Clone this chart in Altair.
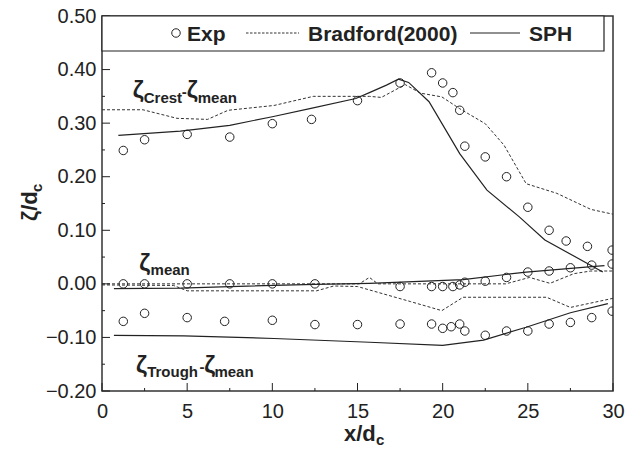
import altair as alt
import pandas as pd

# ---- experimental data (circles) ----
exp_crest_x = [1.25, 2.5, 5.0, 7.5, 10.0, 12.3, 15.0, 17.5, 19.35, 20.0, 20.6, 21.0,
               21.3, 22.5, 23.75, 25.0, 26.25, 27.25, 28.5, 29.95]
exp_crest_y = [0.249, 0.269, 0.279, 0.274, 0.299, 0.307, 0.342, 0.375, 0.394, 0.375,
               0.357, 0.324, 0.257, 0.237, 0.200, 0.143, 0.100, 0.080, 0.070, 0.063]
exp_mean_x = [1.25, 2.5, 5.0, 7.5, 10.0, 12.5, 17.5, 19.35, 20.0, 20.6, 21.0, 21.3,
              22.5, 23.75, 25.0, 26.25, 27.5, 28.75, 29.95]
exp_mean_y = [0.0, 0.0, 0.0, 0.0, 0.0, 0.0, -0.005, -0.005, -0.005, -0.005, -0.002,
              0.003, 0.005, 0.012, 0.022, 0.024, 0.030, 0.035, 0.037]
exp_trough_x = [1.25, 2.5, 5.0, 7.2, 10.0, 12.5, 15.0, 17.5, 19.35, 20.0, 20.5, 21.0,
                21.3, 22.5, 23.75, 25.0, 26.25, 27.5, 28.75, 29.95]
exp_trough_y = [-0.070, -0.055, -0.063, -0.070, -0.068, -0.076, -0.076, -0.075, -0.075,
                -0.083, -0.080, -0.075, -0.088, -0.096, -0.088, -0.088, -0.075, -0.072,
                -0.063, -0.051]

# ---- SPH results (solid) ----
sph_crest_x = [0.96, 4.6, 7.5, 10.0, 12.2, 14.9, 15.7, 16.7, 17.4, 18.0, 19.2, 21.0,
               22.6, 24.5, 26.0, 29.4]
sph_crest_y = [0.277, 0.285, 0.296, 0.312, 0.327, 0.346, 0.357, 0.371, 0.382, 0.376,
               0.340, 0.243, 0.175, 0.125, 0.082, 0.022]
sph_mean_x = [0.7, 4.6, 7.5, 12.5, 15.7, 21.2, 24.9, 28.75, 29.5]
sph_mean_y = [-0.009, -0.008, -0.005, -0.001, 0.001, 0.008, 0.022, 0.032, 0.034]
sph_trough_x = [0.7, 4.8, 10.1, 15.7, 20.0, 22.4, 24.9, 27.5, 29.7]
sph_trough_y = [-0.096, -0.097, -0.102, -0.109, -0.115, -0.105, -0.081, -0.054, -0.037]

# ---- Bradford (2000) results (dashed) ----
brad_crest_x = [0.0, 2.4, 4.4, 6.2, 7.4, 10.1, 12.4, 15.7, 16.4, 17.8, 18.7, 19.95,
                21.0, 22.5, 23.6, 24.9, 26.7, 28.7, 30.0]
brad_crest_y = [0.325, 0.325, 0.309, 0.307, 0.324, 0.333, 0.350, 0.350, 0.348, 0.372,
                0.356, 0.349, 0.327, 0.299, 0.259, 0.187, 0.169, 0.139, 0.130]
brad_upper_x = [0.0, 15.1, 15.7, 16.2, 23.7, 25.1, 26.3, 27.7, 28.7, 30.0]
brad_upper_y = [0.0, 0.0, 0.012, 0.0, 0.0, 0.012, 0.001, 0.019, 0.024, 0.024]
brad_lower_x = [0.0, 4.2, 5.0, 12.6, 13.6, 15.0, 18.1, 19.95, 21.2, 26.1, 27.5, 30.0]
brad_lower_y = [-0.002, -0.003, -0.013, -0.013, -0.004, -0.005, -0.033, -0.050, -0.025,
                -0.025, -0.044, -0.027]

# ---- axis ticks ----
x_major = [0, 5, 10, 15, 20, 25, 30]
x_minor = [2.5, 7.5, 12.5, 17.5, 22.5, 27.5]
y_major = [-0.2, -0.1, 0.0, 0.1, 0.2, 0.3, 0.4, 0.5]
y_minor = [-0.15, -0.05, 0.05, 0.15, 0.25, 0.35, 0.45]

# ---- in-plot labels: (x, y, text) ----
label_main = [(1.80, 0.347, "ζ"), (4.98, 0.347, "ζ"),
              (2.18, 0.024, "ζ"),
              (2.0, -0.166, "ζ"), (6.0, -0.166, "ζ")]
label_sub = [(2.45, 0.338, "Crest"), (4.68, 0.349, "-"), (5.62, 0.338, "mean"),
             (2.85, 0.017, "mean"),
             (2.65, -0.174, "Trough"), (5.72, -0.164, "-"), (6.60, -0.174, "mean")]

FONT = "Liberation Sans"
INK = "#222222"
W, H = 511, 375


def frame(parts):
    rows = []
    for name, xs, ys in parts:
        rows += [{"curve": name, "x": a, "y": b} for a, b in zip(xs, ys)]
    return pd.DataFrame(rows)


exp_df = frame([("crest", exp_crest_x, exp_crest_y),
                ("mean", exp_mean_x, exp_mean_y),
                ("trough", exp_trough_x, exp_trough_y)])
sph_df = frame([("crest", sph_crest_x, sph_crest_y),
                ("mean", sph_mean_x, sph_mean_y),
                ("trough", sph_trough_x, sph_trough_y)])
brad_df = frame([("crest", brad_crest_x, brad_crest_y),
                 ("upper", brad_upper_x, brad_upper_y),
                 ("lower", brad_lower_x, brad_lower_y)])

x_scale = alt.Scale(domain=[0, 30], nice=False, zero=False)
y_scale = alt.Scale(domain=[-0.2, 0.5], nice=False, zero=False)
x_axis = alt.Axis(values=x_major, format="d", title=None, grid=False, domain=False,
                  ticks=False, tickSize=0, labelPadding=10, labelFontSize=20,
                  labelFont=FONT, labelColor=INK, labelOverlap=False, labelFlush=False)
y_axis = alt.Axis(values=y_major, format=".2f", title=None, grid=False, domain=False,
                  ticks=False, tickSize=0, labelPadding=6, labelFontSize=20,
                  labelFont=FONT, labelColor=INK, labelOverlap=False, labelFlush=False)


def X(field):
    return alt.X(field, type="quantitative", scale=x_scale, axis=x_axis)


def Y(field):
    return alt.Y(field, type="quantitative", scale=y_scale, axis=y_axis)


brad = alt.Chart(brad_df).mark_line(color="#333333", strokeWidth=1,
                                    strokeDash=[3, 2], clip=True).encode(
    x=X("x"), y=Y("y"), detail="curve:N")
sph = alt.Chart(sph_df).mark_line(color=INK, strokeWidth=1.2, clip=True).encode(
    x=X("x"), y=Y("y"), detail="curve:N")
exp = alt.Chart(exp_df).mark_point(shape="circle", filled=False, size=72, color=INK,
                                   strokeWidth=1, opacity=1, clip=True).encode(
    x=X("x"), y=Y("y"))


# inward ticks on left and bottom edges
def yticks(vals, length):
    return alt.Chart(pd.DataFrame({"v": vals})).mark_rule(color=INK, strokeWidth=1).encode(
        y=Y("v"), x=alt.value(0), x2=alt.value(length))


def xticks(vals, length):
    return alt.Chart(pd.DataFrame({"v": vals})).mark_rule(color=INK, strokeWidth=1).encode(
        x=X("v"), y=alt.value(H), y2=alt.value(H - length))


ticks = [yticks(y_major, 8), yticks(y_minor, 3), xticks(x_major, 8), xticks(x_minor, 3)]

main_df = pd.DataFrame(label_main, columns=["x", "y", "t"])
sub_df = pd.DataFrame(label_sub, columns=["x", "y", "t"])
ann_main = alt.Chart(main_df).mark_text(align="left", baseline="alphabetic", font=FONT,
                                        fontSize=24, fontWeight="bold", color=INK).encode(
    x=X("x"), y=Y("y"), text="t:N")
ann_sub = alt.Chart(sub_df).mark_text(align="left", baseline="alphabetic", font=FONT,
                                      fontSize=15, fontWeight="bold", color=INK).encode(
    x=X("x"), y=Y("y"), text="t:N")

# legend box at the top of the plot
one = pd.DataFrame({"k": [0]})
leg_box = alt.Chart(one).mark_rect(fill="white", stroke=INK, strokeWidth=1.2).encode(
    x=alt.value(0), x2=alt.value(502), y=alt.value(0), y2=alt.value(35))
leg_circle = alt.Chart(one).mark_point(shape="circle", filled=False, size=72, color=INK,
                                       strokeWidth=1, opacity=1).encode(
    x=alt.value(74), y=alt.value(17))
leg_dash = alt.Chart(one).mark_rule(color="#333333", strokeWidth=1,
                                    strokeDash=[2.5, 1.5]).encode(
    x=alt.value(144), x2=alt.value(197), y=alt.value(17))
leg_solid = alt.Chart(one).mark_rule(color=INK, strokeWidth=1.2).encode(
    x=alt.value(368), x2=alt.value(418), y=alt.value(17))


def leg_text(txt, px):
    return alt.Chart(one).mark_text(text=txt, align="left", baseline="alphabetic",
                                    font=FONT, fontSize=21, fontWeight="bold",
                                    color=INK).encode(x=alt.value(px), y=alt.value(25))


legend = [leg_box, leg_circle, leg_dash, leg_solid,
          leg_text("Exp", 85), leg_text("Bradford(2000)", 206), leg_text("SPH", 427)]


# axis titles with subscripts
def title_text(txt, px, py, size, angle=0):
    return alt.Chart(one).mark_text(text=txt, align="left", baseline="alphabetic",
                                    font=FONT, fontSize=size, fontWeight="bold",
                                    color=INK, angle=angle).encode(
        x=alt.value(px), y=alt.value(py))


titles = [title_text("x/d", 242, 425, 22), title_text("c", 274, 429, 15),
          title_text("ζ/d", -65, 205, 22, 270), title_text("c", -60, 176, 15, 270)]

chart = alt.layer(brad, sph, exp, *ticks, ann_main, ann_sub, *legend, *titles).properties(
    width=W, height=H,
    autosize=alt.AutoSizeParams(type="none"),
    padding={"left": 102, "top": 16, "right": 29, "bottom": 58},
    background="white",
).configure_view(stroke="#333333", strokeWidth=1.5)

chart.save("out.html", embed_options={"renderer": "svg", "actions": False})
